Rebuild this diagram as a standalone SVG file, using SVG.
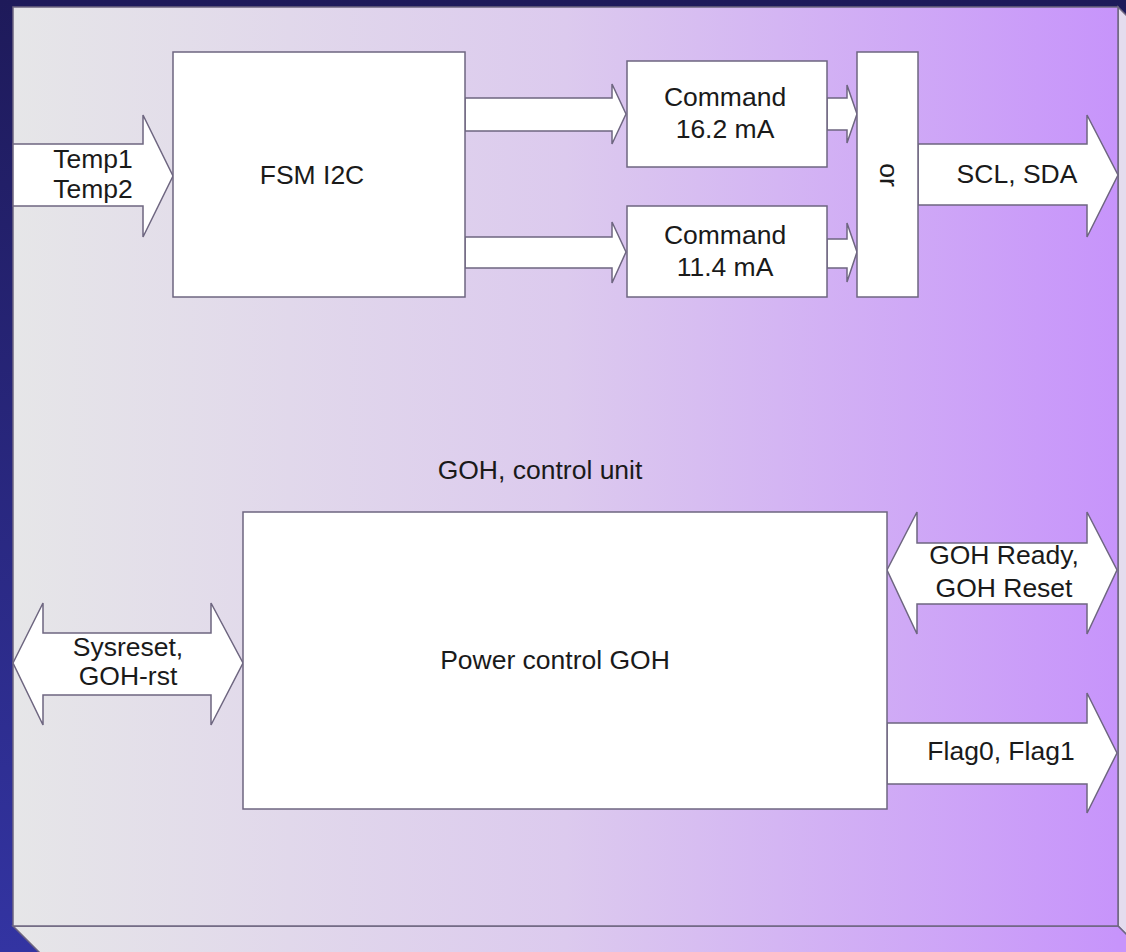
<svg xmlns="http://www.w3.org/2000/svg" width="1126" height="952" viewBox="0 0 1126 952">
<defs>
<linearGradient id="bg" x1="0" y1="0" x2="0" y2="1">
<stop offset="0" stop-color="#1e1a5a"/>
<stop offset="1" stop-color="#3334a2"/>
</linearGradient>
<linearGradient id="face" gradientUnits="userSpaceOnUse" x1="13" y1="0" x2="1118" y2="0">
<stop offset="0" stop-color="#e6e6e8"/>
<stop offset="0.5" stop-color="#dccaee"/>
<stop offset="1" stop-color="#c794fb"/>
</linearGradient>
<style>
.s{stroke:#6e6680;stroke-width:1.5;stroke-linejoin:miter}
.w{fill:#ffffff}
text{font-family:"Liberation Sans",Arial,sans-serif;font-size:26.5px;fill:#1a1a1a;text-anchor:middle}
</style>
</defs>
<rect x="0" y="0" width="1126" height="952" fill="url(#bg)"/>
<g id="panel">
<polygon points="1118,7 1158,47 1158,966 1118,926" fill="#e4dcee" class="s"/>
<polygon points="13,926 1118,926 1158,966 53,966" fill="url(#face)" class="s"/>
<rect x="13" y="7" width="1105" height="919" fill="url(#face)" class="s"/>
</g>
<g id="connectors">
<polygon id="in-temp" class="w s" points="13,144 143,144 143,115 173,176 143,237 143,206 13,206"/>
<polygon id="fsm-cmd1" class="w s" points="465,98 612,98 612,84 626,114 612,144 612,131 465,131"/>
<polygon id="fsm-cmd2" class="w s" points="465,237 612,237 612,222 626,252 612,283 612,268 465,268"/>
<polygon id="cmd1-or" class="w s" points="827,98 847,98 847,85 857,114 847,143 847,130 827,130"/>
<polygon id="cmd2-or" class="w s" points="827,239 847,239 847,223 857,252 847,282 847,268 827,268"/>
<polygon id="out-scl" class="w s" points="918,144 1087,144 1087,115 1118,175 1087,237 1087,205 918,205"/>
<polygon id="sysreset" class="w s" points="13,663 43,603 43,633 211,633 211,603 243,663 211,725 211,695 43,695 43,725"/>
<polygon id="goh-ready" class="w s" points="887,570 917,512 917,543 1087,543 1087,512 1117,570 1087,634 1087,604 917,604 917,634"/>
<polygon id="out-flag" class="w s" points="887,723 1087,723 1087,693 1117,753 1087,813 1087,784 887,784"/>
</g>
<g id="labels">
<text x="93" y="168">Temp1</text>
<text x="93" y="198">Temp2</text>
<text x="1017" y="183">SCL, SDA</text>
<text x="128" y="656">Sysreset,</text>
<text x="128" y="685">GOH-rst</text>
<text x="1004" y="564">GOH Ready,</text>
<text x="1004" y="597">GOH Reset</text>
<text x="1001" y="760">Flag0, Flag1</text>
<text x="540" y="479">GOH, control unit</text>
</g>
<g id="fsm">
<rect x="173" y="52" width="292" height="245" class="w s"/>
<text x="312" y="184">FSM I2C</text>
</g>
<g id="cmd1">
<rect x="627" y="61" width="200" height="106" class="w s"/>
<text x="725" y="106">Command</text>
<text x="725" y="138">16.2 mA</text>
</g>
<g id="cmd2">
<rect x="627" y="206" width="200" height="91" class="w s"/>
<text x="725" y="244">Command</text>
<text x="725" y="276">11.4 mA</text>
</g>
<g id="or">
<rect x="857" y="52" width="61" height="245" class="w s"/>
<text x="0" y="0" transform="translate(880,175) rotate(90)">or</text>
</g>
<g id="power">
<rect x="243" y="512" width="644" height="297" class="w s"/>
<text x="555" y="669">Power control GOH</text>
</g>
</svg>
